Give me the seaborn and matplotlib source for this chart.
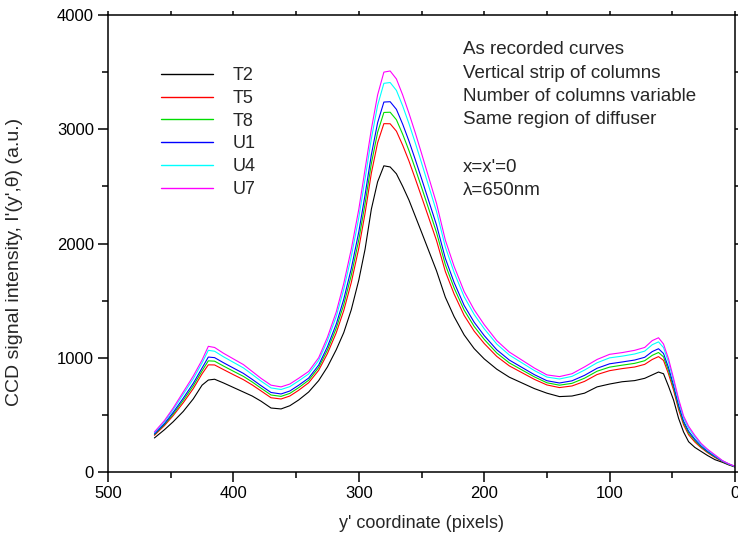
import numpy as np
import pandas as pd
import matplotlib
matplotlib.use("Agg")
import matplotlib.pyplot as plt
import seaborn as sns

# ---- data ----
y_coord = [463, 455, 448, 440, 432, 425, 420, 415, 408, 400, 392, 385, 378, 370, 362,
           355, 348, 340, 332, 325, 318, 312, 306, 300, 295, 290, 285, 280, 275, 270,
           265, 260, 255, 250, 244, 238, 231, 224, 216, 208, 200, 190, 180, 170, 160,
           150, 140, 130, 120, 110, 100, 90, 80, 72, 66, 61, 57, 53, 49, 45, 41, 37,
           32, 27, 22, 16, 10, 5, 0]

T2 = [298, 370, 440, 530, 640, 760, 805, 812, 780, 740, 700, 665, 620, 560, 552,
      580, 630, 700, 800, 920, 1070, 1220, 1420, 1680, 1950, 2300, 2540, 2680, 2670, 2610,
      2500, 2380, 2240, 2100, 1930, 1760, 1530, 1360, 1200, 1080, 990, 900, 830, 780, 730,
      690, 660, 665, 690, 745, 770, 790, 800, 820, 850, 875, 860, 750, 630, 470, 350, 265,
      215, 180, 145, 108, 85, 62, 44]

T5 = [321, 406, 494, 606, 730, 859, 938, 937, 897, 852, 808, 762, 710, 650, 639,
      665, 715, 781, 890, 1037, 1218, 1413, 1658, 1959, 2265, 2615, 2882, 3049, 3048, 2983,
      2860, 2722, 2568, 2410, 2218, 2025, 1755, 1558, 1371, 1233, 1125, 1012, 929, 870, 811,
      762, 739, 753, 793, 853, 887, 905, 919, 942, 985, 1010, 977, 858, 716, 547, 413, 326,
      262, 212, 170, 127, 92, 67, 47]

T8 = [328, 416, 508, 627, 754, 885, 973, 970, 928, 882, 837, 788, 734, 674, 662,
      688, 738, 803, 914, 1068, 1258, 1465, 1722, 2033, 2349, 2699, 2973, 3147, 3149, 3083,
      2956, 2813, 2656, 2493, 2295, 2096, 1815, 1611, 1417, 1274, 1161, 1042, 955, 894, 833,
      781, 760, 776, 821, 882, 918, 935, 951, 974, 1021, 1046, 1008, 887, 738, 567, 430, 342,
      275, 220, 176, 132, 94, 68, 47]

U1 = [333, 424, 522, 646, 776, 910, 1006, 1001, 957, 910, 863, 811, 756, 696, 683,
      709, 759, 822, 936, 1097, 1294, 1512, 1780, 2102, 2426, 2776, 3057, 3238, 3241, 3174,
      3044, 2897, 2736, 2569, 2365, 2161, 1870, 1659, 1458, 1311, 1194, 1070, 980, 916, 852,
      799, 779, 798, 846, 908, 947, 963, 980, 1004, 1054, 1079, 1037, 913, 759, 586, 445, 357,
      286, 228, 182, 137, 95, 69, 48]

U4 = [344, 440, 546, 680, 816, 954, 1065, 1057, 1009, 960, 911, 854, 796, 736, 722,
      747, 797, 858, 976, 1149, 1360, 1598, 1886, 2226, 2566, 2916, 3209, 3402, 3409, 3340,
      3204, 3049, 2882, 2707, 2493, 2279, 1970, 1747, 1534, 1379, 1254, 1120, 1024, 956, 888,
      831, 814, 837, 892, 956, 999, 1014, 1033, 1058, 1114, 1139, 1089, 961, 797, 620, 473, 384,
      307, 242, 193, 145, 98, 71, 49]

U7 = [350, 450, 560, 700, 840, 980, 1100, 1090, 1040, 990, 940, 880, 820, 760, 745,
      770, 820, 880, 1000, 1180, 1400, 1650, 1950, 2300, 2650, 3000, 3300, 3500, 3510, 3440,
      3300, 3140, 2970, 2790, 2570, 2350, 2030, 1800, 1580, 1420, 1290, 1150, 1050, 980, 910,
      850, 835, 860, 920, 985, 1030, 1045, 1065, 1090, 1150, 1175, 1120, 990, 820, 640, 490, 400,
      320, 250, 200, 150, 100, 72, 50]

series_names = ["T2", "T5", "T8", "U1", "U4", "U7"]
series_values = [T2, T5, T8, U1, U4, U7]
colors = ["#000000", "#ff0000", "#00dd00", "#0000ff", "#00ffff", "#ff00ff"]

x_ticks = [500, 400, 300, 200, 100, 0]
y_ticks = [0, 1000, 2000, 3000, 4000]

notes = ["As recorded curves", "Vertical strip of columns",
         "Number of columns variable", "Same region of diffuser", "",
         "x=x'=0", "\u03bb=650nm"]

# ---- build long table ----
rows = []
for name, vals in zip(series_names, series_values):
    for xv, yv in zip(y_coord, vals):
        rows.append({"y": xv, "I": yv, "curve": name})
df = pd.DataFrame(rows)

sns.set_style("ticks")
plt.rcParams["font.family"] = ["Liberation Sans", "DejaVu Sans"]

fig = plt.figure(figsize=(7.38, 5.41), dpi=100)
ax = fig.add_axes([108 / 738, 1 - 472 / 541, 627 / 738, 457 / 541])

sns.lineplot(data=df, x="y", y="I", hue="curve", hue_order=series_names,
             palette=dict(zip(series_names, colors)), estimator=None,
             linewidth=0.8, ax=ax)

ax.set_xlim(500, 0)
ax.set_ylim(0, 4000)
ax.set_xticks(x_ticks)
ax.set_yticks(y_ticks)
ax.set_xticks(np.arange(450, 0, -100), minor=True)
ax.set_yticks(np.arange(500, 4000, 1000), minor=True)

for s in ax.spines.values():
    s.set_visible(True)
    s.set_linewidth(1.1)
    s.set_color("black")

ax.tick_params(axis="both", which="major", direction="out", length=7, width=1.1,
               labelsize=12, colors="black", pad=3)
ax.tick_params(axis="both", which="minor", direction="out", length=4, width=1.1,
               colors="black")
ax.tick_params(top=True, right=True, which="both")
for t in ax.xaxis.get_major_ticks() + ax.xaxis.get_minor_ticks():
    t.tick2line.set_markersize(3)
for t in ax.yaxis.get_major_ticks() + ax.yaxis.get_minor_ticks():
    t.tick2line.set_markersize(3)

ax.set_xlabel("y' coordinate (pixels)", fontsize=13, labelpad=10)
ax.set_ylabel("CCD signal intensity, I'(y',\u03b8) (a.u.)", fontsize=14)
ax.yaxis.set_label_coords(-(108 - 23) / 627, (472 - 262) / 457)

handles, labels = ax.get_legend_handles_labels()
if ax.get_legend() is not None:
    ax.get_legend().remove()
for h in handles:
    h.set_linewidth(1.0)
ax.legend(handles, labels, loc="upper left", bbox_to_anchor=(0.0845, 0.886),
          frameon=False, fontsize=13, handlelength=2.9, handletextpad=1.05,
          labelspacing=0.32, borderpad=0, borderaxespad=0)

ax.text((463 - 108) / 627, (472 - 41) / 457, "\n".join(notes), transform=ax.transAxes,
        ha="left", va="top", fontsize=13.5, linespacing=1.5)

fig.savefig("out.png", dpi=100)
